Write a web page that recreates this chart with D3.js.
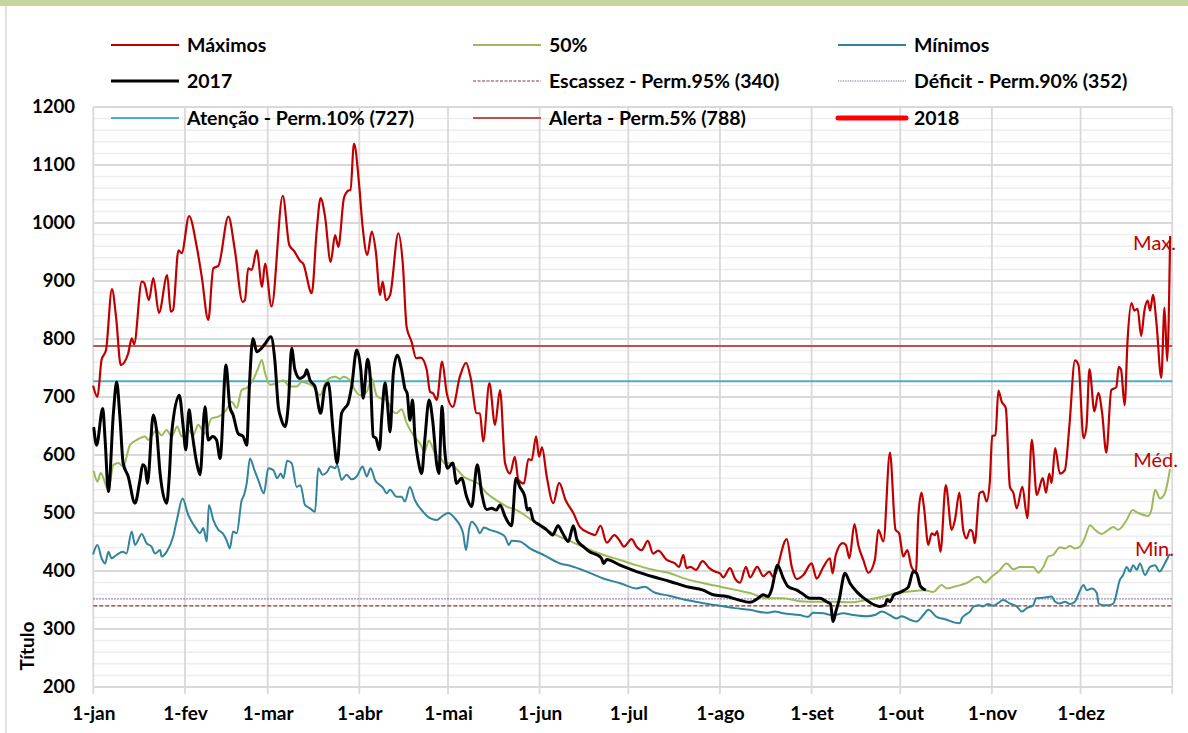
<!DOCTYPE html>
<html><head><meta charset="utf-8">
<script src="https://cdn.jsdelivr.net/npm/d3@7"></script>
<style>html,body{margin:0;padding:0;background:#fff;}svg{display:block;font-family:Lato,"Open Sans",sans-serif;}</style>
</head><body>
<svg id="chart" width="1188" height="733"></svg>
<script>
const monthStarts = [0,31,59,90,120,151,181,212,243,273,304,334,365];
const monthLabels = ["1-jan","1-fev","1-mar","1-abr","1-mai","1-jun","1-jul","1-ago","1-set","1-out","1-nov","1-dez"];
const yTicks = [200,300,400,500,600,700,800,900,1000,1100,1200];

const escassez = 340, deficit = 352, atencao = 727, alerta = 788;

const maximos = [[0,718],[1.4,700],[2.8,764],[4.3,781],[6.3,886],[7.7,838],[9.3,755],[11.8,775],[13,801],[13.8,791],[16.4,899],[17.2,897],[18.8,867],[20.3,905],[22.2,845],[25,910],[26.2,847],[27,850],[28.8,953],[29.9,948],[32.4,1012],[35,959],[36.7,907],[38.9,833],[40.6,922],[42.3,926],[45.7,1011],[47.9,953],[50.5,864],[51.3,867],[52.4,922],[53.6,919],[55.3,953],[57.1,890],[58.1,930],[60.3,856],[64.1,1047],[66.3,962],[67.9,952],[69.9,935],[71,930],[73.9,879],[75.6,988],[76.9,1043],[78.4,1011],[80.3,933],[81.8,979],[82.9,959],[84.8,1043],[86.3,1056],[87,1057],[88.2,1137],[89.9,1068],[91.1,994],[92.7,945],[94.2,985],[95.6,950],[97,876],[97.9,899],[99,867],[100.4,876],[103.2,982],[104.7,930],[106,821],[107.7,795],[109.2,767],[110.8,768],[112.8,747],[113.9,709],[115,706],[116.2,695],[118,761],[119.6,706],[121.6,683],[124,735],[126.1,759],[127.7,732],[129.7,672],[130.8,672],[131.9,623],[134,724],[135.9,652],[137.6,712],[139.3,586],[141,568],[142.6,597],[143.8,557],[145.7,551],[147.2,593],[148.3,591],[149.8,632],[150.8,597],[151.8,613],[153.4,563],[155.6,517],[157.6,552],[159.8,522],[162.4,500],[164.6,476],[168,465],[169.7,462],[171.6,478],[173.7,449],[176.3,462],[178,453],[179.5,442],[182.1,455],[183.8,442],[185.5,436],[187.6,452],[189.4,430],[191.1,435],[194,419],[196.8,413],[198.2,407],[199.6,428],[200.7,405],[202,407],[203.9,402],[206.1,417],[208.4,405],[210.3,399],[212,396],[213.1,389],[215.4,405],[217.1,387],[218.8,380],[220.8,407],[222.2,389],[224.6,407],[226.7,391],[228.7,399],[230,390],[234.6,455],[236.3,407],[238,386],[240.2,393],[243,413],[244.7,387],[247,407],[249.2,422],[250.1,396],[251.2,428],[253.5,448],[254.6,445],[255.8,422],[257.5,481],[258.8,445],[260.5,419],[262.2,397],[264.4,419],[265.6,471],[267.3,451],[269.5,604],[271.4,471],[272.6,465],[274,425],[275.4,436],[276.8,407],[278.3,399],[279.1,494],[280.2,535],[281,511],[282.5,445],[283.6,465],[284.7,462],[285.5,469],[286.6,433],[288.4,548],[290.4,471],[291.5,488],[293,535],[294.3,471],[295.4,456],[296.6,471],[297.4,468],[298.2,448],[299.8,534],[301,537],[302.2,520],[303.3,554],[304.1,633],[305.2,634],[306.2,711],[307.3,692],[308.7,681],[310.1,545],[311.3,534],[312.4,508],[314.3,545],[316,491],[317.5,626],[319.2,531],[321.2,560],[322.3,535],[323.4,568],[324.2,552],[325.4,612],[327,568],[328.7,574],[330.2,649],[332.1,763],[333.3,755],[335,629],[336,649],[337,748],[338.7,675],[340,707],[341.3,672],[342.7,604],[344.4,712],[346.1,717],[346.9,752],[347.7,747],[348.9,686],[349.9,798],[351.2,862],[352.2,849],[353.3,852],[354.5,805],[355.6,849],[356.7,866],[357.5,849],[358.5,876],[359.7,826],[361.3,733],[362.4,854],[363.3,762],[364.3,976]];

const mediana = [[0.2,571],[1.4,554],[2.5,569],[5.1,540],[6.8,583],[8.5,586],[10.1,580],[12.4,617],[14.7,626],[17.5,632],[18.6,626],[21.4,643],[23.1,634],[24.8,643],[26.5,632],[28.4,649],[29.9,632],[32.1,643],[33.8,634],[35.5,652],[37.8,637],[40,663],[42.3,666],[44,672],[45.7,683],[46.8,692],[48.5,681],[50.2,712],[52,716],[54.1,730],[55.8,750],[57,764],[58.1,741],[59.8,721],[61.9,724],[64.2,729],[66.5,718],[68.8,718],[70.5,726],[72.2,724],[74.4,718],[76.7,703],[79,729],[81.8,735],[83.5,731],[84.6,735],[86.8,729],[88.5,712],[90.2,703],[92.5,709],[94.2,732],[95.8,703],[97,698],[99.2,695],[101,678],[102.6,672],[104.3,679],[106,655],[108.3,634],[110.5,620],[112.1,606],[113.5,625],[115.6,603],[117.9,592],[119,585],[120.7,586],[122.9,576],[125.2,563],[127.4,557],[130.2,551],[133.1,534],[136.4,522],[139.9,511],[143.2,505],[146.6,494],[150,482],[153.4,471],[157.9,459],[162.4,449],[166.9,439],[172.5,428],[178.2,419],[183.8,410],[189.4,402],[195.1,396],[200.7,386],[206.5,379],[212,373],[217.7,367],[222.2,362],[227.8,353],[233.4,353],[239,348],[244.7,347],[250.3,347],[256,346],[261.6,350],[267.3,356],[271.7,362],[278.6,366],[280.8,367],[284.2,364],[287,376],[288.7,370],[292.1,374],[295.4,379],[299.4,390],[301.6,380],[303.9,390],[306.2,399],[309,413],[311.3,403],[313.5,407],[315.8,407],[318,407],[319.7,397],[321.4,407],[323.1,425],[324.8,428],[327,441],[328.7,439],[330.4,443],[332.1,439],[333.8,442],[335.5,458],[337.2,479],[338.9,471],[341.1,464],[343.4,471],[345.1,476],[346.7,471],[349.6,488],[351.6,505],[353.5,500],[356.9,495],[358,506],[359.2,540],[360.9,525],[362.5,534],[364.2,574]];

const minimos = [[0,430],[1.4,445],[2.8,422],[4,413],[5.1,433],[6.2,422],[7.9,428],[10.1,433],[11.2,430],[13,468],[14.1,445],[16.4,464],[18,448],[19.7,442],[20.9,430],[22.6,436],[23.1,425],[24.8,433],[27,459],[28.4,491],[30.2,525],[32.1,497],[33.3,485],[34.7,474],[36.1,465],[37.2,474],[38.4,451],[39.1,514],[40.6,488],[42.3,471],[43.8,465],[45.1,453],[46.2,439],[47.3,468],[48.5,465],[50.2,522],[51,531],[51.9,551],[53,594],[54.5,574],[55.8,557],[57.7,534],[59.2,577],[60.9,574],[62.2,560],[63.4,568],[64.3,560],[65.6,590],[67.1,586],[68.8,545],[70.1,548],[71.6,514],[73.3,508],[75,502],[76.1,577],[77.6,566],[79.1,571],[80.3,580],[81.8,577],[82.5,583],[84,557],[85.7,566],[87.4,558],[89.1,563],[91.1,580],[92.5,563],[93.8,577],[95.3,557],[98.1,543],[99.2,534],[100.4,540],[102.6,528],[104.3,528],[105.4,520],[107.1,545],[108.8,522],[111.1,505],[113.9,491],[116.2,488],[117.9,494],[120.1,500],[122.3,491],[124,479],[125.1,465],[126.1,436],[127.2,474],[128,485],[129.7,476],[130.8,465],[132.1,475],[134.1,471],[137.6,465],[139.3,459],[140.6,445],[141.5,452],[144.3,451],[147.7,439],[152.2,428],[157.9,413],[161.3,409],[166.9,399],[172.5,387],[178.2,379],[183.8,370],[186.6,373],[189.4,364],[195.1,357],[200.7,350],[206,345],[212,340],[217,336],[222.1,333],[227.8,328],[230.6,330],[233.4,327],[239,324],[241.8,321],[243.5,328],[246.9,327],[250.3,324],[253.7,327],[257.1,324],[261.6,322],[264.4,324],[266.7,330],[269.5,324],[271.7,318],[273.5,322],[276.3,316],[278.5,313],[280.8,324],[282.5,333],[285.3,321],[288.7,316],[291.5,311],[293.2,310],[293.8,318],[294.9,324],[296.6,330],[297.9,339],[299.8,341],[300.9,339],[302.7,343],[304.4,340],[306.2,345],[307.8,350],[310.1,344],[312.4,339],[314.1,330],[315.8,336],[318,341],[318.9,353],[321.4,354],[324.2,356],[325.4,347],[327,344],[328.7,347],[330.4,343],[332.1,347],[333.2,359],[335,376],[336.1,367],[337.8,370],[339.5,362],[340.1,344],[341.7,341],[343.4,341],[345.1,344],[346.2,362],[347.1,382],[348.4,393],[349.6,407],[350.7,399],[351.8,410],[353,402],[354.1,413],[355.8,393],[357.5,407],[359.2,410],[360.7,399],[362.5,413],[364,428]];

const ano2017 = [[0.2,646],[1.1,617],[3.2,680],[4,626],[5.1,537],[6.8,672],[7.9,726],[9,666],[10.1,586],[11.8,563],[14.1,517],[15.8,557],[16.7,583],[17.5,580],[18.3,551],[20.3,669],[21.4,643],[22.6,568],[24.8,517],[25.7,563],[26.5,637],[29.1,703],[30.4,649],[31.3,609],[32.4,678],[33.3,643],[35,586],[36.1,566],[37.8,683],[38.9,626],[40.4,632],[41.7,626],[42.9,594],[44.9,755],[46.2,683],[47.3,669],[49,637],[50.7,632],[51.9,617],[52.8,718],[54,801],[55.3,778],[56.9,784],[58,791],[60.1,804],[61.4,764],[62.6,683],[63.5,663],[64.9,649],[66,689],[67.1,784],[68.2,747],[69.9,732],[71.6,738],[72.2,747],[73.3,729],[75,718],[76.9,672],[78.4,718],[79.5,724],[81.2,637],[82.5,586],[84,672],[85.1,681],[86.2,689],[87.4,718],[89.1,781],[90.5,747],[91.3,698],[92.8,765],[93.8,726],[94.7,632],[95.6,629],[96.8,609],[97.6,666],[98.7,724],[99.5,689],[100.4,640],[101.5,741],[102.8,772],[104.3,747],[105.4,715],[106.2,706],[107.1,660],[108,695],[108.8,632],[109.9,591],[111.1,568],[112.2,629],[113.6,695],[114.8,660],[116.2,583],[116.9,568],[118,684],[118.8,614],[119.8,577],[121.6,586],[122.9,551],[124.6,560],[126.3,528],[128,511],[129.9,583],[131.4,534],[133.1,506],[134.8,508],[136.4,505],[137.6,514],[139.3,494],[141.5,478],[143,560],[144.3,545],[146,528],[146.8,505],[147.7,508],[148.8,488],[151.1,479],[153.4,471],[155.4,462],[157.2,478],[158.8,465],[160.7,451],[162.4,478],[163.7,453],[165.8,442],[168,433],[170.3,428],[171.9,422],[172.7,413],[173.7,420],[178.2,410],[183.8,399],[189.4,390],[195.1,382],[200.7,373],[206.3,367],[209.7,359],[214.3,356],[217.7,351],[222.2,346],[224.9,353],[226.6,359],[228.3,356],[229.4,367],[231.5,410],[233.4,388],[235.1,373],[238,367],[239.6,362],[242.4,353],[245.8,353],[248.1,347],[249.4,343],[250.3,313],[251.2,330],[252.3,350],[254.3,396],[256,379],[258.3,364],[260.5,354],[263.3,344],[266.1,339],[267.8,341],[268.6,351],[269.5,347],[270.9,359],[272.9,363],[274.3,367],[275.7,372],[277.4,399],[278.5,396],[279.9,373],[281.3,368]];

const legendNames = ["Máximos","50%","Mínimos","2017","Escassez - Perm.95% (340)","Déficit - Perm.90% (352)","Atenção - Perm.10% (727)","Alerta - Perm.5% (788)","2018"];
const endLabels = ["Max.","Méd.","Min."];

const C = {
  max:"#c00000", med:"#9bbb59", min:"#31849b", y2017:"#000000",
  esc:"#953735", def:"#8064a2", ate:"#4bacc6", ale:"#c0504d", y2018:"#ff0000"
};

const svg = d3.select("#chart");
const x = d3.scaleLinear().domain([0,365]).range([93.3,1172.2]);
const y = d3.scaleLinear().domain([200,1200]).range([687,107]);

// frame decorations
svg.append("rect").attr("x",0).attr("y",0).attr("width",1188).attr("height",6).attr("fill","#c3d69b");
svg.append("line").attr("x1",6).attr("x2",6).attr("y1",6).attr("y2",733).attr("stroke","#d9d9d9").attr("stroke-width",1.5);

// minor gridlines
const minor = d3.range(220,1200,20).filter(v=>v%100!==0);
svg.append("g").selectAll("line").data(minor).join("line")
  .attr("x1",x(0)).attr("x2",x(365)).attr("y1",d=>y(d)).attr("y2",d=>y(d))
  .attr("stroke","#ededed").attr("stroke-width",1.5);
// major gridlines
svg.append("g").selectAll("line").data(yTicks).join("line")
  .attr("x1",x(0)).attr("x2",x(365)).attr("y1",d=>y(d)).attr("y2",d=>y(d))
  .attr("stroke","#d9d9d9").attr("stroke-width",1.8);
// vertical gridlines + ticks
svg.append("g").selectAll("line").data(monthStarts).join("line")
  .attr("x1",d=>x(d)).attr("x2",d=>x(d)).attr("y1",y(1200)).attr("y2",y(200)+7)
  .attr("stroke","#d9d9d9").attr("stroke-width",1.8);

// axis labels
const yAxis = d3.axisLeft(y).tickValues(yTicks).tickSize(0).tickPadding(0).tickFormat(d3.format("d"));
const gy = svg.append("g").attr("transform","translate(75,0)").call(yAxis);
gy.select(".domain").remove();
gy.selectAll("text").attr("font-family","Lato").attr("font-weight","bold").attr("font-size",18.5).attr("fill","#000");

const xAxis = d3.axisBottom(x).tickValues(monthStarts.slice(0,12)).tickSize(0).tickPadding(0).tickFormat((d,i)=>monthLabels[i]);
const gx = svg.append("g").attr("transform","translate(0,706)").call(xAxis);
gx.select(".domain").remove();
gx.selectAll("text").attr("font-family","Lato").attr("font-weight","bold").attr("font-size",19).attr("fill","#000");

svg.append("text").attr("transform","translate(34,646) rotate(-90)").attr("text-anchor","middle")
  .attr("font-family","Lato").attr("font-weight","bold").attr("font-size",19).text("Título");

// threshold lines
const thresholds = [
  {v:escassez,c:C.esc,w:1.2,dash:"4,2"},
  {v:deficit,c:C.def,w:1.2,dash:"1.5,1.5"},
  {v:atencao,c:C.ate,w:2,dash:null},
  {v:alerta,c:C.ale,w:2,dash:null}
];
svg.append("g").selectAll("line").data(thresholds).join("line")
  .attr("x1",x(0)).attr("x2",x(365)).attr("y1",d=>y(d.v)).attr("y2",d=>y(d.v))
  .attr("stroke",d=>d.c).attr("stroke-width",d=>d.w).attr("stroke-dasharray",d=>d.dash);

const line = d3.line().x(d=>x(d[0])).y(d=>y(d[1])).curve(d3.curveMonotoneX);
const series = [
  {d:minimos,c:C.min,w:2},
  {d:mediana,c:C.med,w:2},
  {d:maximos,c:C.max,w:2.2},
  {d:ano2017,c:C.y2017,w:3}
];
svg.append("g").selectAll("path").data(series).join("path")
  .attr("d",s=>line(s.d)).attr("fill","none").attr("stroke",s=>s.c).attr("stroke-width",s=>s.w)
  .attr("stroke-linejoin","round").attr("stroke-linecap","round");

// end labels
const endPos = [[1176,250],[1178,467],[1174,556]];
svg.append("g").selectAll("text").data(endLabels).join("text")
  .attr("x",(d,i)=>endPos[i][0]).attr("y",(d,i)=>endPos[i][1]).attr("text-anchor","end")
  .attr("font-family","Lato").attr("font-size",20).attr("fill",C.max).text(d=>d);

// legend
const legendStyle = [
  {c:C.max,w:2},{c:C.med,w:2},{c:C.min,w:2},
  {c:C.y2017,w:3},{c:C.esc,w:1.2,dash:"3,1.5"},{c:C.def,w:1.2,dash:"1.2,1.2"},
  {c:C.ate,w:2},{c:C.ale,w:2},{c:C.y2018,w:5,cap:"round"}
];
const colX = [111,473,838], rowY = [45,81,118];
const lg = svg.append("g").selectAll("g").data(legendNames).join("g")
  .attr("transform",(d,i)=>`translate(${colX[i%3]},${rowY[Math.floor(i/3)]})`);
lg.append("line").attr("x1",0).attr("x2",68).attr("y1",0).attr("y2",0)
  .attr("stroke",(d,i)=>legendStyle[i].c).attr("stroke-width",(d,i)=>legendStyle[i].w)
  .attr("stroke-dasharray",(d,i)=>legendStyle[i].dash||null)
  .attr("stroke-linecap",(d,i)=>legendStyle[i].cap||"butt");
lg.append("text").attr("x",76).attr("y",0).attr("dy","0.35em")
  .attr("font-family","Lato").attr("font-weight","bold").attr("font-size",19.5).text(d=>d);
</script>
</body></html>
